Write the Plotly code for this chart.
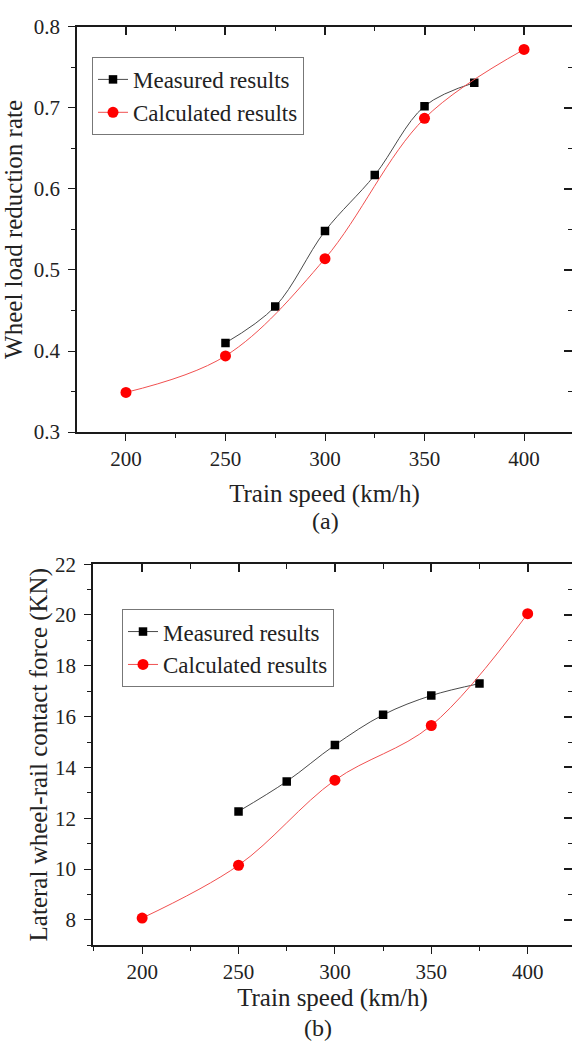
import plotly.graph_objects as go

# ---------------- data ----------------
speed_measured = [250, 275, 300, 325, 350, 375]
speed_calc = [200, 250, 300, 350, 400]

wlr_measured = [0.410, 0.455, 0.548, 0.617, 0.702, 0.731]
wlr_calc = [0.349, 0.394, 0.514, 0.687, 0.772]

lat_measured = [12.27, 13.45, 14.88, 16.07, 16.83, 17.30]
lat_calc = [8.07, 10.15, 13.50, 15.65, 20.05]

name_measured = "Measured results"
name_calc = "Calculated results"

W, H = 572, 1055
FONT = "Liberation Serif"
TXT = "#222222"
AX = "#1a1a1a"

def px(x):
    return x / W

def py(y):
    return (H - y) / H

fig = go.Figure()

def add_pair(xm, ym, xc, yc, xa, ya, legend):
    fig.add_trace(go.Scatter(
        x=xm, y=ym, name=name_measured, mode="lines+markers",
        line=dict(color="#4a4a4a", width=1, shape="spline", smoothing=1),
        marker=dict(symbol="square", size=8.5, color="#000000"),
        xaxis=xa, yaxis=ya, legend=legend))
    fig.add_trace(go.Scatter(
        x=xc, y=yc, name=name_calc, mode="lines+markers",
        line=dict(color="#f05050", width=1, shape="spline", smoothing=1),
        marker=dict(symbol="circle", size=11, color="#ff0000"),
        xaxis=xa, yaxis=ya, legend=legend))

add_pair(speed_measured, wlr_measured, speed_calc, wlr_calc, "x", "y", "legend")
add_pair(speed_measured, lat_measured, speed_calc, lat_calc, "x2", "y2", "legend2")

# invisible helper traces on twin subplots that carry the inside ticks on top/right
def helper(xs, ys, xa, ya):
    fig.add_trace(go.Scatter(x=xs, y=ys, xaxis=xa, yaxis=ya, mode="markers",
                             marker=dict(opacity=0, size=1), showlegend=False,
                             hoverinfo="skip"))

helper(speed_calc, wlr_calc, "x3", "y3")
helper(speed_calc, lat_calc, "x4", "y4")

tickfont = dict(family=FONT, size=21, color=TXT)
titlefont = dict(family=FONT, size=25, color=TXT)

top_xdom = [px(77), 1.0]
top_ydom = [py(430), py(15)]
bot_xdom = [px(93), 1.0]
bot_ydom = [py(955), py(565)]

top_xr = [175.4, 424.1]
bot_xr = [174.5, 423.0]
top_yr = [0.2999, 0.8001]
bot_yr = [7.0, 22.001]

def xbase(dom, rng, anchor, standoff):
    return dict(domain=dom, range=rng, anchor=anchor, tick0=0, dtick=50,
                ticks="outside", ticklen=7, tickwidth=1.4, tickcolor=AX,
                showline=True, linecolor=AX, linewidth=1.5, mirror=True,
                showgrid=False, zeroline=False, tickfont=tickfont,
                minor=dict(ticks="outside", ticklen=4, dtick=25, tick0=0,
                           tickcolor=AX, tickwidth=1.3, showgrid=False),
                title=dict(text="Train speed (km/h)", font=titlefont, standoff=standoff))

def ybase(dom, rng, anchor, dtick, mdtick, title, standoff):
    return dict(domain=dom, range=rng, anchor=anchor, tick0=0, dtick=dtick,
                ticks="outside", ticklen=7, tickwidth=1.4, tickcolor=AX,
                showline=True, linecolor=AX, linewidth=1.5, mirror=False,
                showgrid=False, zeroline=False, tickfont=tickfont,
                ticklabelstandoff=4,
                minor=dict(ticks="outside", ticklen=4, dtick=mdtick, tick0=0,
                           tickcolor=AX, tickwidth=1.3, showgrid=False),
                title=dict(text=title, font=titlefont, standoff=standoff))

def xtwin(dom, rng, anchor):
    return dict(domain=dom, side="top", anchor=anchor, range=rng,
                tick0=0, dtick=50, ticks="inside", ticklen=8, tickwidth=1.6,
                tickcolor=AX, showline=False, showgrid=False, zeroline=False,
                showticklabels=False,
                minor=dict(ticks="inside", ticklen=4.5, dtick=25, tick0=0,
                           tickcolor=AX, tickwidth=1.4, showgrid=False))

def ytwin(dom, rng, anchor, dtick, mdtick):
    return dict(domain=dom, side="right", anchor=anchor, range=rng,
                tick0=0, dtick=dtick, ticks="inside", ticklen=8, tickwidth=1.6,
                tickcolor=AX, showline=False, showgrid=False, zeroline=False,
                showticklabels=False,
                minor=dict(ticks="inside", ticklen=4.5, dtick=mdtick, tick0=0,
                           tickcolor=AX, tickwidth=1.4, showgrid=False))

legend_style = dict(font=dict(family=FONT, size=23, color=TXT),
                    bgcolor="rgba(255,255,255,1)", bordercolor="#777777",
                    borderwidth=1, xanchor="left", yanchor="top",
                    tracegroupgap=0)

fig.update_layout(
    width=W, height=H,
    margin=dict(l=0, r=0, t=0, b=0),
    paper_bgcolor="white", plot_bgcolor="rgba(0,0,0,0)",
    font=dict(family=FONT, color=TXT),
    xaxis=xbase(top_xdom, top_xr, "y", 14),
    yaxis=ybase(top_ydom, top_yr, "x", 0.1, 0.05, "Wheel load reduction rate", 4),
    xaxis2=xbase(bot_xdom, bot_xr, "y2", 4),
    yaxis2=ybase(bot_ydom, bot_yr, "x2", 2, 1, "Lateral wheel-rail contact force (KN)", 0),
    xaxis3=xtwin(top_xdom, top_xr, "y3"),
    yaxis3=ytwin(top_ydom, top_yr, "x3", 0.1, 0.05),
    xaxis4=xtwin(bot_xdom, bot_xr, "y4"),
    yaxis4=ytwin(bot_ydom, bot_yr, "x4", 2, 1),
    legend=dict(x=px(92), y=py(46), **legend_style),
    legend2=dict(x=px(122), y=py(611), **legend_style),
    showlegend=True,
    annotations=[
        dict(text="(a)", x=px(325), y=py(521), xref="paper", yref="paper",
             showarrow=False, font=dict(family=FONT, size=24, color=TXT),
             xanchor="center", yanchor="middle"),
        dict(text="(b)", x=px(318), y=py(1040), xref="paper", yref="paper",
             showarrow=False, font=dict(family=FONT, size=24, color=TXT),
             xanchor="center", yanchor="middle"),
    ],
)

fig.write_html("out.html")
